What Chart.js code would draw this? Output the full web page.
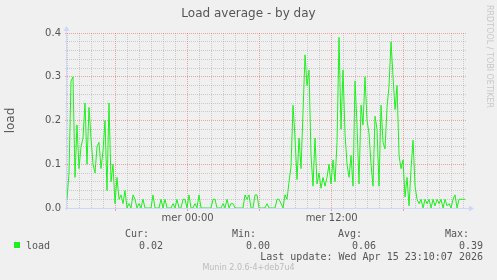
<!DOCTYPE html>
<html>
<head>
<meta charset="utf-8">
<script src="https://cdn.jsdelivr.net/npm/chart.js@4/dist/chart.umd.min.js"></script>
<style>
  html, body { margin: 0; padding: 0; background: #f0f0f0; }
  #wrap { position: relative; width: 497px; height: 280px; overflow: hidden; }
  #chart { position: absolute; left: 0; top: 0; }
  .t { position: absolute; white-space: pre; color: #555; }
  .mono { font: 10px/12px "DejaVu Sans Mono", monospace; }
  #title { left: 0; width: 497px; top: 6px; text-align: center; font: 12px/14px "DejaVu Sans", sans-serif; }
  #rrd { left: 485px; top: 5px; writing-mode: vertical-rl; font: 8px/9px "DejaVu Sans", sans-serif; color: #c8c8c8; }
  #munin { left: 0; width: 497px; top: 263px; text-align: center; font: 8px/10px "DejaVu Sans", sans-serif; color: #bbb; }
  #swatch { position: absolute; left: 14px; top: 242px; width: 6px; height: 6px; background: #1ef01e; }
</style>
</head>
<body>
<div id="wrap">
  <canvas id="chart" width="497" height="280"></canvas>
  <div class="t" id="title">Load average - by day</div>
  <div class="t" id="rrd">RRDTOOL / TOBI OETIKER</div>
  <div id="swatch"></div>
  <div class="t mono" style="left:26px;top:240px">load</div>
  <div class="t mono" style="right:348px;top:228px">Cur:</div>
  <div class="t mono" style="right:241px;top:228px">Min:</div>
  <div class="t mono" style="right:135px;top:228px">Avg:</div>
  <div class="t mono" style="right:28px;top:228px">Max:</div>
  <div class="t mono" style="right:334px;top:240px">0.02</div>
  <div class="t mono" style="right:227px;top:240px">0.00</div>
  <div class="t mono" style="right:121px;top:240px">0.06</div>
  <div class="t mono" style="right:14px;top:240px">0.39</div>
  <div class="t mono" style="right:14px;top:251px">Last update: Wed Apr 15 23:10:07 2026</div>
  <div class="t" id="munin">Munin 2.0.6-4+deb7u4</div>
</div>
<script>
// x in hours relative to "mer 00:00", one sample every 10 min
const T0 = -10.05;
const STEP = 1 / 6;
const T_END = 23.28;

const LOAD = [
  0.02, 0.08, 0.29, 0.30, 0.07, 0.19, 0.09, 0.14, 0.16, 0.24, 0.10, 0.23, 0.16, 0.10,
  0.08, 0.14, 0.15, 0.09, 0.13, 0.20, 0.04, 0.24, 0.06, 0.10, 0.01, 0.07, 0.02,
  0.03, 0.01, 0.04, 0, 0.01, 0, 0.03, 0.02, 0, 0.01,
  0, 0.02, 0, 0, 0, 0, 0.03, 0, 0, 0,
  0.02, 0, 0.02, 0, 0, 0, 0.01, 0, 0.02, 0,
  0, 0.02, 0.02, 0, 0.03, 0, 0, 0.01, 0, 0.03,
  0, 0, 0, 0, 0, 0, 0.02, 0.02, 0, 0,
  0, 0.01, 0, 0.02, 0, 0.01, 0.01, 0, 0, 0,
  0, 0, 0.03, 0.02, 0.03, 0, 0, 0.03, 0.03, 0,
  0, 0, 0, 0.01, 0, 0, 0, 0, 0.02, 0.02,
  0.01, 0, 0.03, 0.02, 0.06, 0.095, 0.235, 0.16, 0.065, 0.16, 0.09, 0.22, 0.35, 0.28,
  0.315, 0.12, 0.05, 0.16, 0.055, 0.08, 0.045, 0.07, 0.05, 0.07, 0.1, 0.055, 0.11,
  0.06, 0.15, 0.39, 0.18, 0.315, 0.17, 0.1, 0.07, 0.12, 0.05, 0.29, 0.19, 0.055, 0.235,
  0.19, 0.3, 0.2, 0.17, 0.1, 0.05, 0.21, 0.18,
  0.05, 0.235, 0.15, 0.135, 0.23, 0.28, 0.38, 0.3, 0.225, 0.28, 0.12, 0.09, 0.11, 0.025,
  0.07, 0.005, 0.09, 0.155, 0.05, 0.02,
  0.01, 0.02, 0, 0.02, 0.01, 0.02, 0, 0.02, 0.005, 0.02, 0.01, 0.02, 0, 0.02,
  0.005, 0.01, 0, 0.02, 0.03, 0, 0.02, 0.02, 0.02, 0.02,
];

const X_GRID = [-10, -9, -8, -7, -6, -5, -4, -3, -2, -1, 0, 1, 2, 3, 4, 5, 6, 7, 8, 9, 10, 11,
  12, 13, 14, 15, 16, 17, 18, 19, 20, 21, 22, 23];
const X_MAJOR = [-6, 0, 6, 12, 18];
const X_LABEL_HOURS = [0, 12];
const X_LABEL_TEXT = ['mer 00:00', 'mer 12:00'];

const Y_GRID = [0, 0.02, 0.04, 0.06, 0.08, 0.1, 0.12, 0.14, 0.16, 0.18, 0.2,
  0.22, 0.24, 0.26, 0.28, 0.3, 0.32, 0.34, 0.36, 0.38, 0.4];
const Y_LABELS = [0, 0.1, 0.2, 0.3, 0.4];

const GREEN = '#1ef01e';
const MINOR = 'rgba(150,150,150,0.42)';
const MAJOR = 'rgba(225,100,100,0.55)';
const AXIS = '#cfd6f8';

const isYMajor = (v) => Y_LABELS.some(l => Math.abs(l - v) < 1e-9);

// axis lines + arrows, under the data line
const axisArrows = {
  id: 'axisArrows',
  beforeDatasetsDraw(chart) {
    const { ctx, chartArea: a } = chart;
    ctx.save();
    ctx.strokeStyle = AXIS;
    ctx.fillStyle = AXIS;
    ctx.lineWidth = 1;
    ctx.beginPath();
    ctx.moveTo(a.left - 2, a.bottom + 0.5);
    ctx.lineTo(a.right + 4, a.bottom + 0.5);
    ctx.moveTo(a.left - 0.5, a.bottom + 2);
    ctx.lineTo(a.left - 0.5, a.top - 4);
    ctx.stroke();
    ctx.beginPath();
    ctx.moveTo(a.right + 7, a.bottom + 0.5);
    ctx.lineTo(a.right + 2, a.bottom - 2.5);
    ctx.lineTo(a.right + 2, a.bottom + 3.5);
    ctx.fill();
    ctx.beginPath();
    ctx.moveTo(a.left - 0.5, a.top - 7);
    ctx.lineTo(a.left - 3.5, a.top - 2);
    ctx.lineTo(a.left + 2.5, a.top - 2);
    ctx.fill();
    ctx.restore();
  },
};

new Chart(document.getElementById('chart'), {
  type: 'line',
  data: {
    datasets: [{
      label: 'load',
      data: LOAD.map((v, i) => ({ x: T0 + i * STEP, y: v })),
      borderColor: GREEN,
      borderWidth: 1,
      pointRadius: 0,
      tension: 0,
      fill: false,
    }],
  },
  options: {
    responsive: false,
    animation: false,
    devicePixelRatio: 1,
    layout: { padding: { top: 33, right: 30, left: 0, bottom: 0 } },
    plugins: { legend: { display: false }, title: { display: false }, tooltip: { enabled: false } },
    scales: {
      x: {
        type: 'linear',
        min: T0,
        max: T_END,
        afterFit: (s) => { s.height = 72; },
        afterBuildTicks: (s) => { s.ticks = X_GRID.map(v => ({ value: v })); },
        border: { display: false, dash: [1, 1] },
        grid: {
          color: (c) => (X_MAJOR.includes(c.tick.value) ? MAJOR : MINOR),
          tickColor: (c) => (X_MAJOR.includes(c.tick.value) ? MAJOR : 'rgba(0,0,0,0)'),
          tickLength: 3,
          tickBorderDash: [],
        },
        ticks: {
          autoSkip: false,
          maxRotation: 0,
          padding: 1,
          color: '#555',
          font: { family: 'DejaVu Sans', size: 10 },
          callback: (v) => {
            const k = X_LABEL_HOURS.indexOf(v);
            return k >= 0 ? X_LABEL_TEXT[k] : '';
          },
        },
      },
      y: {
        min: 0,
        max: 0.4,
        afterFit: (s) => { s.width = 67; },
        afterBuildTicks: (s) => { s.ticks = Y_GRID.map(v => ({ value: v })); },
        border: { display: false, dash: [1, 1] },
        grid: {
          color: (c) => (isYMajor(c.tick.value) ? MAJOR : MINOR),
          tickColor: (c) => (isYMajor(c.tick.value) ? MAJOR : AXIS),
          tickLength: 2,
          tickBorderDash: [],
        },
        ticks: {
          autoSkip: false,
          padding: 4,
          color: '#555',
          font: { family: 'DejaVu Sans', size: 10 },
          callback: (v) => (isYMajor(v) ? v.toFixed(1) : ''),
        },
        title: {
          display: true,
          text: 'load',
          color: '#555',
          font: { family: 'DejaVu Sans', size: 12 },
          padding: { top: 4, bottom: 0 },
        },
      },
    },
  },
  plugins: [axisArrows],
});
</script>
</body>
</html>
